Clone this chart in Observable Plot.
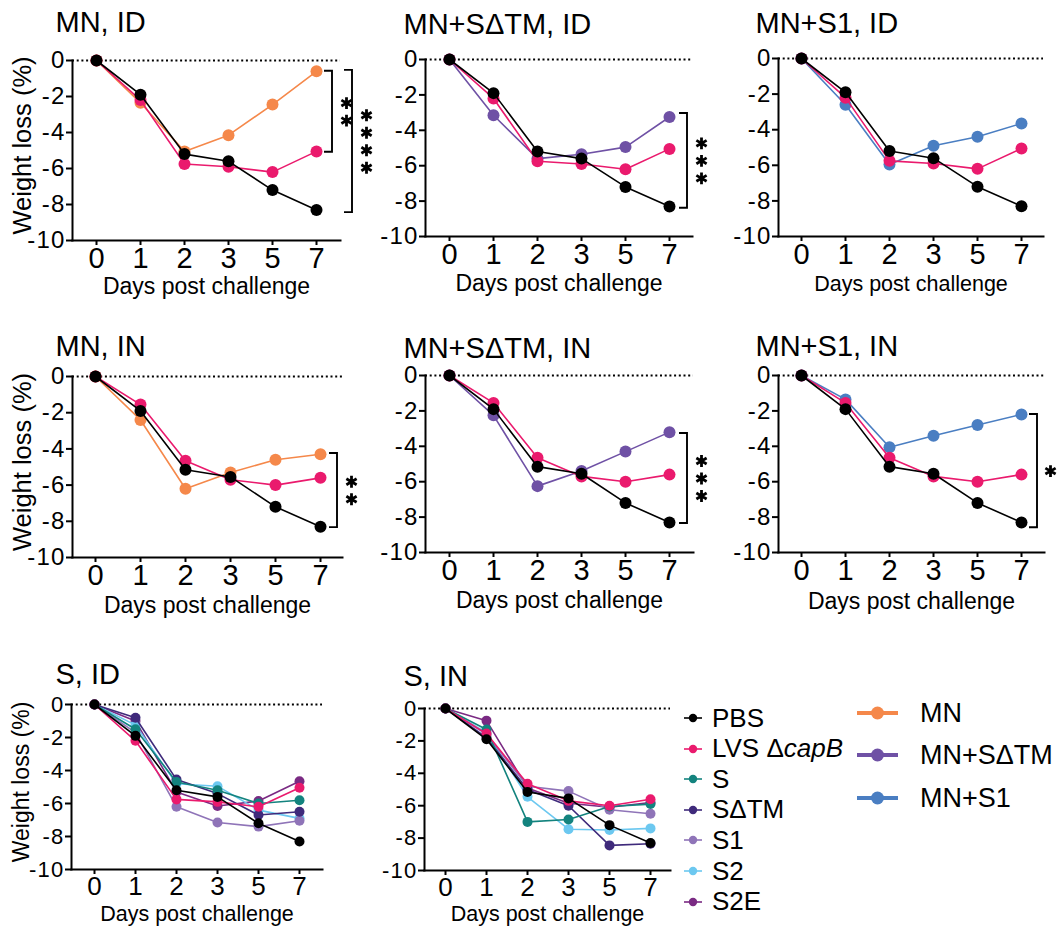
<!DOCTYPE html>
<html><head><meta charset="utf-8">
<script src="https://cdn.jsdelivr.net/npm/d3@7"></script>
<script src="https://cdn.jsdelivr.net/npm/@observablehq/plot@0.6"></script>
<style>
html,body{margin:0;padding:0;background:#fff;}
#root{position:relative;width:1059px;height:927px;overflow:hidden;font-family:"Liberation Sans",Arial,Helvetica,sans-serif;color:#000;}
.panel{position:absolute;}
.panel svg{overflow:visible;max-width:none !important;}
.panel svg g[aria-label="y-axis tick label"]{letter-spacing:1.2px;}
.leg{position:absolute;display:flex;align-items:center;white-space:nowrap;}
</style></head><body><div id="root"></div>
<script>
// ---- data ----
const days = ["0","1","2","3","5","7"];
const pbsID   = [0, -1.9, -5.2, -5.6, -7.2, -8.3];
const lvsID   = [0, -2.2, -5.75, -5.9, -6.2, -5.05];
const mnID    = [0, -2.35, -5.05, -4.15, -2.45, -0.6];
const mnSdtmID = [0, -3.15, -5.6, -5.35, -4.95, -3.25];
const mnS1ID  = [0, -2.6, -5.95, -4.9, -4.4, -3.65];
const pbsIN   = [0, -1.9, -5.15, -5.55, -7.2, -8.3];
const lvsIN   = [0, -1.55, -4.65, -5.7, -6.0, -5.6];
const mnIN    = [0, -2.4, -6.2, -5.3, -4.6, -4.3];
const mnSdtmIN = [0, -2.25, -6.25, -5.4, -4.3, -3.2];
const mnS1IN  = [0, -1.35, -4.05, -3.4, -2.8, -2.2];
const sID     = [0, -1.5, -4.7, -5.2, -6.0, -5.8];
const sdtmID  = [0, -0.8, -4.55, -5.4, -6.7, -6.5];
const s1ID    = [0, -1.7, -6.2, -7.15, -7.4, -7.05];
const s2ID    = [0, -1.25, -4.8, -4.95, -6.4, -6.9];
const s2eID   = [0, -1.0, -5.3, -6.15, -5.85, -4.65];
const sIN     = [0, -1.3, -7.0, -6.85, -6.05, -5.9];
const sdtmIN  = [0, -1.8, -5.0, -6.0, -8.45, -8.35];
const s1IN    = [0, -1.6, -4.8, -5.1, -6.25, -6.5];
const s2IN    = [0, -1.5, -5.45, -7.45, -7.5, -7.4];
const s2eIN   = [0, -0.75, -4.9, -5.85, -6.1, -5.8];
const yTicks = [0, -2, -4, -6, -8, -10];

const colors = {
  "PBS": "#000000",
  "LVS": "#ea1a6d",
  "MN": "#f5884a",
  "MN+SΔTM": "#6f51a5",
  "MN+S1": "#4a7ec2",
  "S": "#13837e",
  "SΔTM": "#3f2a7b",
  "S1": "#8f74b8",
  "S2": "#6cc8f0",
  "S2E": "#7a2a83"
};

// ---- layout ----
const panels = [
  {title:"MN, ID", tb:31, f:{l:72,r:340,t:60,b:240}, ylab:true, series:[["MN",mnID],["LVS",lvsID],["PBS",pbsID]], r:6, tx:-17, xf:29, yf:24, lf:23, lb:293,
   brackets:[{top:-0.6,bottom:-5.1,dx:16,stars:2,sdx:30},{top:-0.55,bottom:-8.45,dx:36,stars:4,sdx:50}]},
  {title:"MN+SΔTM, ID", tb:33, f:{l:425,r:692,t:59,b:236}, ylab:false, series:[["MN+SΔTM",mnSdtmID],["LVS",lvsID],["PBS",pbsID]], r:6, tx:-22, xf:29, yf:24, lf:23, lb:290,
   brackets:[{top:-3.05,bottom:-8.4,dx:18,stars:3,sdx:32}]},
  {title:"MN+S1, ID", tb:32, f:{l:778,r:1043,t:58,b:236}, ylab:false, series:[["MN+S1",mnS1ID],["LVS",lvsID],["PBS",pbsID]], r:6, tx:-23, xf:29, yf:24, lf:21.5, lb:290,
   brackets:[]},
  {title:"MN, IN", tb:355, f:{l:72,r:342,t:376,b:557}, ylab:true, series:[["MN",mnIN],["LVS",lvsIN],["PBS",pbsIN]], r:6, tx:-17, xf:29, yf:24, lf:23, lb:612,
   brackets:[{top:-4.25,bottom:-8.35,dx:17,stars:2,sdx:31}]},
  {title:"MN+SΔTM, IN", tb:357, f:{l:425,r:693,t:375,b:552}, ylab:false, series:[["MN+SΔTM",mnSdtmIN],["LVS",lvsIN],["PBS",pbsIN]], r:6, tx:-22, xf:29, yf:24, lf:23, lb:607,
   brackets:[{top:-3.28,bottom:-8.36,dx:18,stars:3,sdx:32}]},
  {title:"MN+S1, IN", tb:355, f:{l:778,r:1044,t:375,b:552}, ylab:false, series:[["MN+S1",mnS1IN],["LVS",lvsIN],["PBS",pbsIN]], r:6, tx:-23, xf:29, yf:24, lf:23, lb:608,
   brackets:[{top:-2.2,bottom:-8.6,dx:16,stars:1,sdx:29}]},
  {title:"S, ID", tb:683, f:{l:71,r:322,t:704,b:869}, ylab:true, series:[["S2E",s2eID],["S2",s2ID],["S1",s1ID],["SΔTM",sdtmID],["S",sID],["LVS",lvsID],["PBS",pbsID]], r:5, tx:-16, xf:26, yf:22, lf:21.5, lb:920, yl:23,
   brackets:[]},
  {title:"S, IN", tb:685, f:{l:424,r:670,t:708,b:870}, ylab:false, series:[["S2E",s2eIN],["S2",s2IN],["S1",s1IN],["SΔTM",sdtmIN],["S",sIN],["LVS",lvsIN],["PBS",pbsIN]], r:5, tx:-21, xf:26, yf:22, lf:21.5, lb:920,
   brackets:[]}
];

const root = document.getElementById("root");
const ML = 75, MR = 50, MT = 56, MB = 60;
const FONT = "Liberation Sans, Arial, Helvetica, sans-serif";

for (const p of panels) {
  const {l, r, t, b} = p.f;
  const width = (r - l) + ML + MR;
  const height = (b - t) + MT + MB;
  const marks = [
    Plot.ruleY([0], {strokeWidth: 2, strokeDasharray: "2,2.7"}),
    Plot.frame({anchor: "left", strokeWidth: 2}),
    Plot.frame({anchor: "bottom", strokeWidth: 2}),
    Plot.axisY({ticks: yTicks, tickSize: 6, tickPadding: 1, fontSize: p.yf, strokeWidth: 2, tickFormat: d => String(d), label: null}),
    Plot.axisX({tickSize: 5, tickPadding: 2, fontSize: p.xf, strokeWidth: 2, label: null}),
  ];
  for (const [name, vals] of p.series) {
    const data = vals.map((v, i) => ({day: days[i], value: v}));
    marks.push(Plot.line(data, {x: "day", y: "value", stroke: colors[name], strokeWidth: 1.6}));
    marks.push(Plot.dot(data, {x: "day", y: "value", fill: colors[name], r: p.r}));
  }
  for (const br of p.brackets) {
    const mid = (br.top + br.bottom) / 2;
    const spacing = 17.5;
    for (let k = 0; k < br.stars; k++) {
      marks.push(Plot.dot([{day: "7", value: mid}], {x: "day", y: "value", symbol: "asterisk", r: 5.6, stroke: "black", strokeWidth: 2.8,
        dx: br.sdx, dy: (k - (br.stars - 1) / 2) * spacing}));
    }
  }
  marks.push(Plot.text([p.title], {frameAnchor: "top-left", text: d => d, textAnchor: "start", lineAnchor: "bottom", fontSize: 29, dx: p.tx, dy: p.tb - t}));
  marks.push(Plot.text(["Days post challenge"], {frameAnchor: "bottom", text: d => d, textAnchor: "middle", lineAnchor: "bottom", fontSize: p.lf, dy: p.lb - b}));
  if (p.ylab) marks.push(Plot.text(["Weight loss (%)"], {frameAnchor: "left", text: d => d, rotate: -90, textAnchor: "middle", lineAnchor: "middle", fontSize: p.yl || 25.5, dx: -50, dy: -5}));

  const plot = Plot.plot({
    width, height,
    marginLeft: ML, marginRight: MR, marginTop: MT, marginBottom: MB,
    style: {fontFamily: FONT, color: "black", background: "transparent", overflow: "visible", maxWidth: "none"},
    x: {type: "point", domain: days, padding: 0.5},
    y: {domain: [-10, 0]},
    marks
  });
  const xs = plot.scale("x"), ys = plot.scale("y");
  const svg = d3.select(plot);
  for (const br of p.brackets) {
    const x7 = xs.apply("7") + br.dx;
    const y1 = ys.apply(br.top), y2 = ys.apply(br.bottom);
    const tick = 8;
    svg.append("path")
      .attr("d", `M${x7 - tick},${y1}H${x7}V${y2}H${x7 - tick}`)
      .attr("fill", "none").attr("stroke", "black").attr("stroke-width", 1.9);
  }
  const div = document.createElement("div");
  div.className = "panel";
  div.style.left = (l - ML) + "px";
  div.style.top = (t - MT) + "px";
  div.style.width = width + "px";
  div.style.height = height + "px";
  div.appendChild(plot);
  root.appendChild(div);
}

// ---- legend ----
const legLeft = [["PBS","PBS"],["LVS","LVS Δ<i>capB</i>"],["S","S"],["SΔTM","SΔTM"],["S1","S1"],["S2","S2"],["S2E","S2E"]];
const legRight = [["MN","MN"],["MN+SΔTM","MN+SΔTM"],["MN+S1","MN+S1"]];
legLeft.forEach(([k, label], i) => {
  const d = document.createElement("div");
  d.className = "leg";
  d.style.left = "683px";
  d.style.top = (718 + i * 30.6 - 15) + "px";
  d.style.height = "30px";
  d.style.fontSize = "26px";
  d.innerHTML = `<svg width="20" height="12" style="margin-right:9px"><line x1="1" x2="19" y1="6" y2="6" stroke="${colors[k]}" stroke-width="1.6"/><circle cx="10" cy="6" r="4.2" fill="${colors[k]}"/></svg><span>${label}</span>`;
  root.appendChild(d);
});
const rightY = [713, 755, 798];
legRight.forEach(([k, label], i) => {
  const d = document.createElement("div");
  d.className = "leg";
  d.style.left = "857px";
  d.style.top = (rightY[i] - 18) + "px";
  d.style.height = "36px";
  d.style.fontSize = "27px";
  d.innerHTML = `<svg width="41" height="16" style="margin-right:22px"><line x1="0" x2="41" y1="8" y2="8" stroke="${colors[k]}" stroke-width="4"/><circle cx="20.5" cy="8" r="6.5" fill="${colors[k]}"/></svg><span>${label}</span>`;
  root.appendChild(d);
});
</script></body></html>
